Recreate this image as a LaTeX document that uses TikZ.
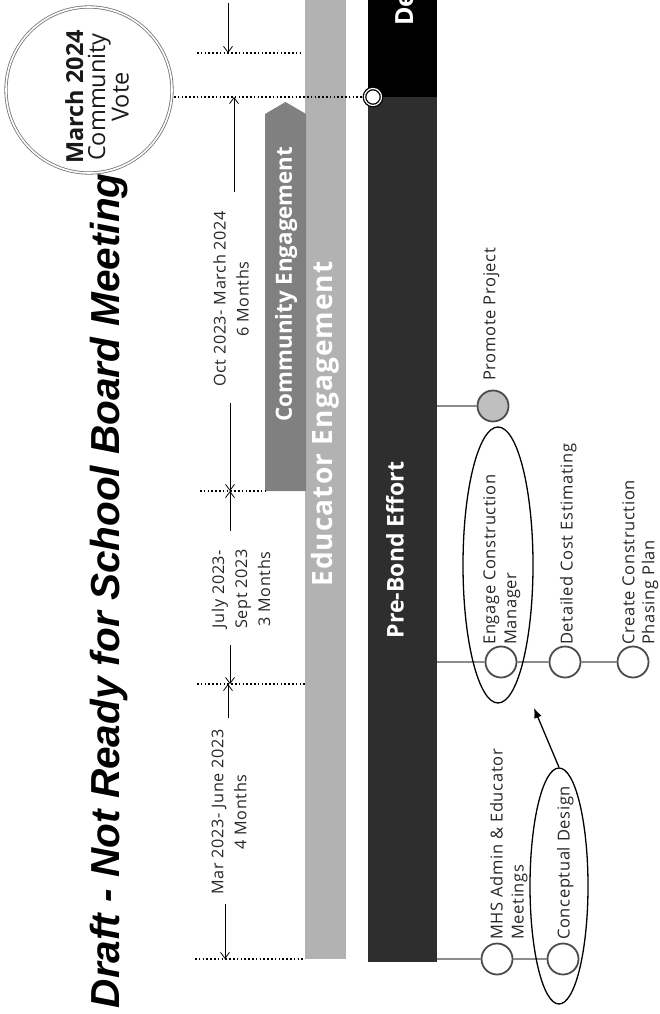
\documentclass[tikz,border=0pt]{standalone}
\usepackage{fontspec}
\setmainfont{Open Sans}
\newfontfamily\lblfont{Open Sans}[LetterSpace=4]
\newfontfamily\widefont{Open Sans}[LetterSpace=4]
\newfontfamily\titlefont{Liberation Sans}
\usetikzlibrary{arrows.meta,shapes.geometric}
\begin{document}
\begin{tikzpicture}[x=1pt,y=-1pt,
  lbl/.style={rotate=90, inner sep=0pt, align=left, anchor=north west,
    font=\lblfont\fontsize{16.5}{21}\selectfont, text=black!85},
  dimlbl/.style={rotate=90, inner sep=0pt, align=center,
    font=\lblfont\fontsize{16.2}{23}\selectfont, text=black!85},
  task/.style={circle, draw=black!70, line width=1.8pt, fill=white,
    minimum size=31pt, inner sep=0pt},
  link/.style={draw=black!45, line width=2.6pt},
  guide/.style={draw=black, line width=1.2pt, dash pattern=on 1.6pt off 2.2pt},
  dimarrow/.style={draw=black, line width=0.8pt, -{Straight Barb[length=6pt,width=9pt]}},
  ring/.style={ellipse, draw=black, line width=1.3pt, inner sep=0pt},
  barlbl/.style={rotate=90, inner sep=0pt, text=white, font=\bfseries\fontsize{23}{26}\selectfont},
  bar/.style={inner sep=0pt, anchor=north west, draw=none}
]
\useasboundingbox (0,0) rectangle (660,1014);

% title
\node[rotate=90, anchor=base east, inner sep=0pt,
  font=\titlefont\bfseries\itshape\fontsize{40.5}{48}\selectfont] (title)
  at (119,173) {Draft - Not Ready for School Board Meeting};

% vote circle
\node[circle, draw=black!55, double=white, double distance=1.6pt, line width=0.8pt,
  minimum size=166pt, inner sep=0pt] (vote) at (89,90) {};
\node[rotate=90, inner sep=0pt, align=center, text=black!90,
  font=\fontsize{23.5}{22}\selectfont] (votetext) at (97,97)
  {{\bfseries March 2024}\\Community\\Vote};

% bars
\node[bar, fill=black!30, minimum width=41pt, minimum height=959pt] (edu) at (305,0) {};
\fill[black!50] (265,491) -- (265,114) -- (285.5,102) -- (306,114) -- (306,491) -- cycle;
\node[bar, fill=black!82, minimum width=69pt, minimum height=865pt] (prebond) at (368,97) {};
\node[bar, fill=black, minimum width=69pt, minimum height=97pt] (design) at (368,0) {};

\node[barlbl, font=\bfseries\fontsize{22.3}{26}\selectfont] (comlbl) at (286,284) {Community Engagement};
\node[barlbl, font=\widefont\bfseries\fontsize{28}{30}\selectfont] (edulbl) at (325,424) {Educator Engagement};
\node[barlbl] (prelbl) at (395,550) {Pre-Bond Effort};
\node[barlbl, font=\bfseries\fontsize{25}{28}\selectfont, anchor=base west] (delbl) at (413,26) {De};

% milestone marker
\node[circle, draw=black, double=white, double distance=1.2pt, line width=1.3pt,
  fill=white, minimum size=17pt, inner sep=0pt] (mile) at (373,97) {};

% guides
\coordinate (g0a) at (197,53);  \coordinate (g0b) at (302,53);
\coordinate (g1a) at (174,97);
\coordinate (g2a) at (200,491); \coordinate (g2b) at (265,491);
\coordinate (g3a) at (197,684); \coordinate (g3b) at (305,684);
\coordinate (g4a) at (195,959); \coordinate (g4b) at (305,959);
\draw[guide] (g0a) -- (g0b);
\draw[guide] (g1a) -- (mile.west);
\draw[guide] (g2a) -- (g2b);
\draw[guide] (g3a) -- (g3b);
\draw[guide] (g4a) -- (g4b);

% dimension labels
\node[dimlbl] (d1) at (229,812) {Mar 2023- June 2023\\4 Months};
\node[dimlbl] (d2) at (241,589) {July 2023-\\Sept 2023\\3 Months};
\node[dimlbl] (d3) at (231,299) {Oct 2023- March 2024\\6 Months};

% dimension arrows
\coordinate (a0s) at (228,3);   \coordinate (a0e) at (228,53);
\coordinate (a1s) at (234,192); \coordinate (a1e) at (234,97);
\coordinate (a2s) at (230,403); \coordinate (a2e) at (230,491);
\coordinate (a3s) at (230,531); \coordinate (a3e) at (230,491);
\coordinate (a4s) at (230,645); \coordinate (a4e) at (230,684);
\coordinate (a5s) at (228,718); \coordinate (a5e) at (228,684);
\coordinate (a6s) at (225,904); \coordinate (a6e) at (225,959);
\foreach \i in {0,...,6} { \draw[dimarrow] (a\i s) -- (a\i e); }

% tasks
\node[task, fill=black!25] (promote) at (493,406) {};
\node[task] (engage) at (501,662) {};
\node[task] (detail) at (565,662) {};
\node[task] (create) at (633,662) {};
\node[task] (mhs) at (497,959) {};
\node[task] (concept) at (563,959) {};

\draw[link] (prebond.east |- promote) -- (promote);
\draw[link] (prebond.east |- engage) -- (engage);
\draw[link] (engage) -- (detail);
\draw[link] (detail) -- (create);
\draw[link] (prebond.east |- mhs) -- (mhs);
\draw[link] (mhs) -- (concept);

% task labels
\node[lbl] (promotelbl) at (483,381) {Promote Project};
\node[lbl] (engagelbl) at (483,645) {Engage Construction\\Manager};
\node[lbl] (detaillbl) at (560,645) {Detailed Cost Estimating};
\node[lbl, font=\lblfont\fontsize{16.5}{20}\selectfont] (createlbl) at (622,645) {Create Construction\\Phasing Plan};
\node[lbl] (mhslbl) at (490,940) {MHS Admin \& Educator\\Meetings};
\node[lbl] (conceptlbl) at (557,940) {Conceptual Design};

% highlight rings
\node[ring, minimum width=70pt, minimum height=276pt] (engring) at (498,565) {};
\node[ring, minimum width=58pt, minimum height=236pt] (concring) at (559,886) {};
\coordinate (tip) at (534,708);
\draw[line width=1.3pt, -{Latex[length=10pt,width=8pt]}] (concring.north) -- (tip);
\end{tikzpicture}
\end{document}
